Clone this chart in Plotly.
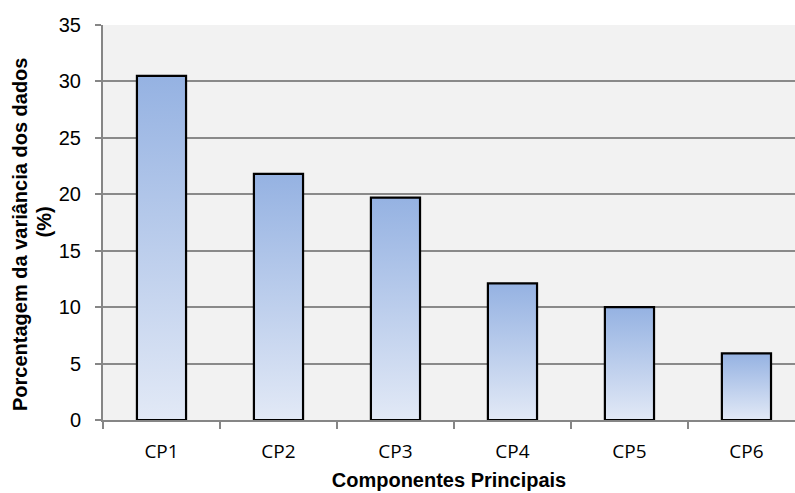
import plotly.graph_objects as go

# Percentage of data variance explained by each principal component
componentes = ["CP1", "CP2", "CP3", "CP4", "CP5", "CP6"]
variancia = [30.5, 21.8, 19.7, 12.1, 10.0, 5.9]
y_ticks = [0, 5, 10, 15, 20, 25, 30, 35]

y_title = "Porcentagem da variância dos dados"
y_title_unit = "(%)"
x_title = "Componentes Principais"

BAR_WIDTH = 0.42
TOP_COLOR = "#95b2e2"
BOTTOM_COLOR = "#e2e9f6"
AXIS_GRAY = "#868686"
ARIAL = "Liberation Sans, Arial"

# plot-area geometry in pixels (used to place the y title lines)
PLOT_LEFT = 103
PLOT_WIDTH = 795 - PLOT_LEFT
PLOT_HEIGHT = 493 - 25 - 73

fig = go.Figure()

# Bars: gradient-filled rectangles with a black outline
for i, v in enumerate(variancia):
    x0, x1 = i - BAR_WIDTH / 2, i + BAR_WIDTH / 2
    fig.add_trace(go.Scatter(
        x=[x0, x1, x1, x0, x0],
        y=[0, 0, v, v, 0],
        mode="lines",
        line=dict(width=2.2, color="#000000"),
        fill="toself",
        fillgradient=dict(type="vertical", start=0, stop=v,
                          colorscale=[[0, BOTTOM_COLOR], [1, TOP_COLOR]]),
        name=componentes[i],
        hovertemplate="%{fullData.name}: " + f"{v}%<extra></extra>",
        showlegend=False,
    ))

y_title_font = dict(family=ARIAL, size=20, color="#000000")

fig.update_layout(
    width=795,
    height=493,
    margin=dict(l=PLOT_LEFT, r=0, t=25, b=73),
    paper_bgcolor="white",
    plot_bgcolor="#f2f2f2",
    showlegend=False,
    xaxis=dict(
        range=[-0.5, 5.415],
        tickvals=list(range(len(componentes))),
        ticktext=componentes,
        ticks="",
        ticklabelstandoff=13,
        tickfont=dict(family="Open Sans", size=19, color="#000000"),
        showgrid=False,
        zeroline=False,
        showline=True,
        linecolor=AXIS_GRAY,
        linewidth=2,
        minor=dict(
            tickvals=[i - 0.5 for i in range(len(componentes) + 1)],
            ticks="outside",
            ticklen=7,
            tickcolor=AXIS_GRAY,
            tickwidth=1.5,
            showgrid=False,
        ),
        title=dict(
            text=f"<b>{x_title}</b>",
            font=dict(family=ARIAL, size=20, color="#000000"),
            standoff=10,
        ),
    ),
    yaxis=dict(
        range=[0, 35],
        tickvals=y_ticks,
        ticks="outside",
        ticklen=6,
        tickcolor=AXIS_GRAY,
        tickwidth=1.5,
        ticklabelstandoff=10,
        tickfont=dict(family=ARIAL, size=20, color="#000000"),
        showgrid=True,
        gridcolor="#8a8a8a",
        gridwidth=2,
        zeroline=False,
        showline=True,
        linecolor=AXIS_GRAY,
        linewidth=2,
    ),
    annotations=[
        # Two-line y title, set with a tighter line spacing than the default
        dict(
            text=f"<b>{y_title}</b>",
            textangle=-90,
            xref="paper", yref="paper",
            x=(20.5 - PLOT_LEFT) / PLOT_WIDTH, y=0.5 - 12 / PLOT_HEIGHT,
            xanchor="center", yanchor="middle",
            showarrow=False,
            font=y_title_font,
        ),
        dict(
            text=f"<b>{y_title_unit}</b>",
            textangle=-90,
            xref="paper", yref="paper",
            x=(43 - PLOT_LEFT) / PLOT_WIDTH, y=0.5,
            xanchor="center", yanchor="middle",
            showarrow=False,
            font=y_title_font,
        ),
    ],
)

fig.write_html("out.html")
